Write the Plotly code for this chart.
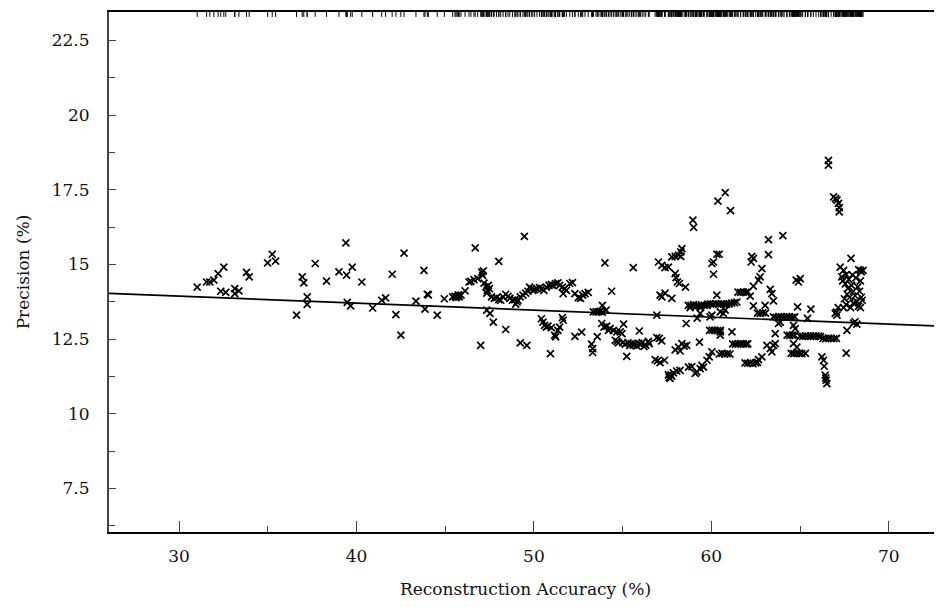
import plotly.graph_objects as go

# scatter points, grouped by x region
acc_a = [31.02, 31.55, 31.73, 31.96, 32.2, 32.52, 32.35, 32.63, 33.14, 33.14, 33.37, 33.8, 33.95, 34.99, 35.25, 35.44,
         36.62, 36.94, 37.03, 37.22, 37.22, 37.67, 38.31, 39.01, 39.4, 39.44, 39.76, 39.48, 39.67, 40.3, 40.91, 41.42,
         41.64, 42.01, 42.22, 42.5, 42.68]
prec_a = [14.24, 14.41, 14.41, 14.47, 14.69, 14.91, 14.10, 14.06, 14.19, 14.02, 14.11, 14.73, 14.58, 15.05, 15.34, 15.11,
          13.30, 14.58, 14.38, 13.91, 13.66, 15.03, 14.44, 14.75, 15.72, 14.64, 14.91, 13.73, 13.61, 14.41, 13.54, 13.80,
          13.88, 14.67, 13.32, 12.63, 15.38]

acc_b = [43.8, 43.35, 43.99, 44.05, 43.86, 44.55, 44.95, 46.69, 48.02, 49.46,
         45.42, 45.55, 45.68, 45.79, 45.89, 45.61, 45.74,
         46.12, 46.34, 46.45, 46.62, 46.83, 47.06, 47.11, 47.15, 47.19, 47.3, 47.43, 47.49, 47.37, 47.34,
         47.61, 47.76, 47.89, 48.02, 48.13, 48.26, 48.41, 48.54, 48.64, 48.79, 48.92, 49.05, 49.1, 48.97,
         49.23, 49.38, 49.53, 49.66, 49.75, 49.85, 49.94, 50.04, 50.17, 50.32, 50.45, 50.56, 50.70, 50.85, 50.98, 51.07,
         51.22, 51.35, 51.45, 51.60, 51.73, 51.83, 52.02, 52.17, 51.65,
         52.31, 52.5, 52.63, 52.75, 52.88, 53.06,
         47.34, 47.52, 47.71, 48.41, 47.0, 49.23, 49.60,
         50.42, 50.51, 50.6, 50.70, 50.79, 50.98, 51.17, 51.22, 51.35, 51.45, 51.6, 51.65, 50.93, 52.31, 52.69]
prec_b = [14.80, 13.77, 14.0, 13.98, 13.50, 13.30, 13.85, 15.55, 15.1, 15.94,
          13.91, 13.93, 13.93, 13.91, 13.97, 13.89, 13.98,
          14.11, 14.41, 14.43, 14.49, 14.52, 14.74, 14.63, 14.78, 14.37, 14.25, 14.30, 14.19, 14.13, 14.04,
          13.91, 13.86, 13.89, 13.82, 13.80, 13.91, 14.0, 13.93, 13.86, 13.80, 13.82, 13.74, 13.80, 13.67,
          13.91, 13.97, 14.04, 14.10, 14.24, 14.19, 14.13, 14.15, 14.19, 14.22, 14.19, 14.13, 14.24, 14.30, 14.32, 14.30,
          14.36, 14.38, 14.30, 14.24, 14.19, 14.13, 14.36, 14.39, 14.02,
          14.02, 13.89, 13.86, 13.97, 14.02, 14.06,
          13.47, 13.36, 13.07, 12.82, 12.29, 12.37, 12.29,
          13.18, 13.07, 12.96, 12.90, 12.93, 12.88, 12.63, 12.57, 12.79, 12.90, 13.22, 13.13, 12.01, 12.59, 12.73]

acc_c = [53.25, 53.31, 53.31, 53.57, 54.0, 54.38, 55.6,
         53.35, 53.5, 53.62, 53.73, 53.85, 53.86, 54.07,
         53.82, 53.95, 54.1, 54.2, 54.29, 54.48, 54.67, 54.86, 55.05, 54.96, 54.58, 54.76,
         54.68, 55.0, 55.3, 55.5, 55.7, 56.0, 56.3, 56.5, 56.2, 55.8, 55.4, 55.15, 55.6, 55.9, 56.1,
         55.23, 55.94, 56.45, 56.93, 56.93, 57.07, 57.2, 56.83, 56.96, 57.11, 57.36]
prec_c = [12.33, 12.18, 12.05, 12.58, 15.05, 14.10, 14.89,
          13.41, 13.41, 13.41, 13.43, 13.40, 13.63, 13.47,
          13.02, 12.90, 12.93, 12.79, 12.85, 12.79, 12.74, 12.74, 13.0, 12.68, 12.46, 12.37,
          12.42, 12.38, 12.37, 12.35, 12.33, 12.31, 12.30, 12.35, 12.25, 12.27, 12.29, 12.33, 12.30, 12.36, 12.38,
          11.92, 12.77, 12.42, 13.3, 12.55, 12.52, 12.44, 11.81, 11.77, 11.71, 11.79]

acc_d = [57.02, 57.21, 57.39, 57.58,
         57.11, 57.21, 57.39, 57.77,
         57.77, 57.96, 58.15, 58.28, 58.34, 58.28,
         57.96, 58.01, 58.09, 58.2, 58.54,
         57.96, 58.15, 58.34, 58.47, 58.61, 58.24,
         57.58, 57.67, 57.77, 57.86, 58.05, 58.24, 57.62, 57.72,
         58.58,
         58.71, 58.9, 59.09, 59.18, 59.37, 59.47, 59.56, 59.75, 59.88, 60.03,
         58.96, 59.0,
         58.7, 58.85, 59.0, 59.15, 59.3, 59.45, 59.6, 59.75, 58.8, 59.1, 59.4,
         59.33, 59.37, 59.2]
prec_d = [15.08, 14.97, 14.89, 14.91,
          13.97, 13.91, 14.04, 13.86,
          15.25, 15.27, 15.31, 15.42, 15.53, 15.27,
          14.69, 14.56, 14.41, 14.36, 14.24,
          12.14, 12.23, 12.35, 12.26, 12.29, 12.10,
          11.30, 11.18, 11.25, 11.37, 11.43, 11.45, 11.22, 11.30,
          13.02,
          11.56, 11.58, 11.35, 11.40, 11.51, 11.62, 11.56, 11.79, 11.90, 12.07,
          16.48, 16.24,
          13.63, 13.63, 13.65, 13.63, 13.62, 13.64, 13.63, 13.63, 13.55, 13.57, 13.56,
          12.40, 13.36, 13.20]

acc_e = [60.03, 60.12, 60.12, 60.31, 60.44, 60.37, 60.78, 60.31,
         59.8, 59.95, 60.1, 60.25, 60.4, 60.55, 60.7, 60.85, 61.0, 61.15, 61.3, 61.44,
         60.03, 59.93, 60.5, 60.68, 60.78,
         59.9, 60.05, 60.2, 60.35, 60.5, 60.5,
         60.45, 60.6, 60.75, 60.9, 61.05,
         61.08,
         61.5, 61.65, 61.8, 61.95, 62.05,
         60.5, 61.16,
         61.2, 61.35, 61.5, 61.65, 61.8, 61.95, 62.05,
         61.9, 62.05, 62.2, 62.35, 62.5, 62.6]
prec_e = [15.03, 15.08, 14.67, 15.34, 15.34, 17.12, 17.40, 13.97,
          13.67, 13.68, 13.67, 13.69, 13.67, 13.68, 13.67, 13.66, 13.68, 13.70, 13.72, 13.74,
          13.30, 13.24, 13.41, 13.36, 13.47,
          12.79, 12.80, 12.79, 12.78, 12.79, 12.63,
          12.00, 12.02, 12.00, 12.01, 12.00,
          16.80,
          14.07, 14.06, 14.07, 14.06, 14.08,
          12.74, 12.74,
          12.34, 12.33, 12.34, 12.35, 12.34, 12.33, 12.34,
          11.70, 11.69, 11.70, 11.68, 11.70, 11.72]

acc_f = [62.28, 62.37, 62.24, 62.85, 62.75, 62.66, 62.37, 62.19, 62.37,
         62.6, 62.75, 62.9, 63.05,
         63.03, 63.32, 63.41, 63.5,
         63.22, 64.03, 63.22,
         63.13, 63.32, 63.5, 63.41, 63.6, 62.85, 62.66,
         63.5, 63.65, 63.8, 63.95, 64.1, 64.25, 64.4, 64.55, 64.7,
         63.6, 63.78, 63.88,
         64.27, 64.42, 64.57, 64.7,
         64.5, 64.65, 64.8, 64.95, 65.1, 65.3,
         64.63, 64.73, 64.63, 64.82,
         64.86, 65.42, 65.61,
         64.78, 65.01, 64.91]
prec_f = [15.27, 15.20, 15.08, 14.86, 14.58, 14.47, 14.27, 13.94, 13.61,
          13.37, 13.36, 13.38, 13.37,
          13.63, 14.16, 14.02, 13.78,
          15.83, 15.96, 15.33,
          12.29, 12.18, 12.29, 12.07, 12.35, 11.90, 11.81,
          13.24, 13.23, 13.25, 13.24, 13.23, 13.25, 13.24, 13.23, 13.24,
          12.68, 13.02, 13.07,
          12.63, 12.62, 12.63, 12.62,
          12.02, 12.01, 12.03, 12.02, 12.01, 12.02,
          12.96, 12.85, 12.35, 12.23,
          13.58, 13.19, 13.50,
          14.47, 14.52, 14.41]

acc_g = [65.0, 65.15, 65.3, 65.45, 65.6, 65.75, 65.9, 66.05, 66.15,
         66.3, 66.45, 66.6, 66.75, 66.9, 67.05,
         66.23, 66.32, 66.36, 66.42, 66.47, 66.51, 66.45,
         66.6, 66.6,
         66.89, 67.08, 67.17, 67.21, 67.21, 67.0,
         66.98, 67.08,
         67.26, 67.45, 67.6, 67.35, 67.87,
         67.4, 67.55, 67.7, 67.65, 67.8, 67.5, 67.9, 68.0, 68.1, 67.75, 68.2, 68.3, 67.6, 67.45, 67.85, 68.0,
         68.35, 68.25, 68.4, 68.15, 67.95, 68.45, 68.4, 68.5,
         68.4, 68.55, 68.3, 68.45,
         68.1, 68.2, 68.01, 67.64, 67.6,
         67.05, 67.15]
prec_g = [12.60, 12.59, 12.61, 12.60, 12.59, 12.60, 12.61, 12.60, 12.58,
          12.52, 12.51, 12.53, 12.52, 12.51, 12.52,
          11.90, 11.79, 11.59, 11.29, 11.12, 11.01, 11.20,
          18.48, 18.32,
          17.26, 17.15, 17.04, 16.90, 16.76, 17.20,
          13.36, 13.30,
          14.91, 14.80, 14.66, 14.58, 15.20,
          14.45, 14.35, 14.20, 14.00, 13.90, 13.85, 14.30, 14.10, 13.95, 14.50, 13.75, 13.60, 13.65, 13.55, 13.55, 13.70,
          14.10, 14.25, 14.45, 14.55, 14.65, 13.90, 13.55, 13.80,
          14.80, 14.80, 14.82, 14.75,
          13.08, 13.00, 13.03, 12.79, 12.03,
          13.40, 13.55]

accuracy = acc_a + acc_b + acc_c + acc_d + acc_e + acc_f + acc_g
precision = prec_a + prec_b + prec_c + prec_d + prec_e + prec_f + prec_g

# fitted trend line, end points
fit_x = [26.05, 73.0]
fit_y = [14.03, 12.93]

X_RANGE = [26.05, 73.0]
Y_RANGE = [6.04, 23.45]

font = dict(family='DejaVu Serif', size=17, color='#111')
axis_grey = '#444'

fig = go.Figure()

fig.add_trace(go.Scatter(x=fit_x, y=fit_y, mode='lines',
                         line=dict(color='black', width=1.6), hoverinfo='skip'))

fig.add_trace(go.Scatter(x=accuracy, y=precision, mode='markers',
                         marker=dict(symbol='x-thin', size=7,
                                     line=dict(color='black', width=1.7))))

# rug along the top edge
fig.add_trace(go.Scatter(x=accuracy, y=[Y_RANGE[1]] * len(accuracy), mode='markers',
                         marker=dict(symbol='line-ns', size=7,
                                     line=dict(color='black', width=1)),
                         hoverinfo='skip'))

# the page body has an 8px margin, so the figure is sized to fill the rest
fig.update_layout(
    width=934, height=591,
    margin=dict(l=101, r=0, t=4, b=67),
    plot_bgcolor='white', paper_bgcolor='white',
    showlegend=False,
    font=font,
)

fig.update_xaxes(
    range=X_RANGE, showgrid=False, zeroline=False, automargin=False,
    showline=True, linecolor='black', linewidth=1.5, mirror=True,
    ticks='inside', tick0=30, dtick=10, ticklen=11, tickcolor=axis_grey, tickwidth=1,
    minor=dict(ticks='inside', dtick=5, tick0=30, ticklen=6, tickcolor=axis_grey, showgrid=False),
    ticklabelstandoff=8,
    title=dict(text='Reconstruction Accuracy (%)', standoff=18, font=font),
)

fig.update_yaxes(
    range=Y_RANGE, showgrid=False, zeroline=False, automargin=False,
    showline=True, linecolor=axis_grey, linewidth=2,
    ticks='inside', tick0=7.5, dtick=2.5, ticklen=7, tickcolor=axis_grey, tickwidth=1,
    minor=dict(ticks='inside', dtick=1.25, tick0=7.5, ticklen=6, tickcolor=axis_grey, showgrid=False),
    ticklabelstandoff=14,
    title=dict(text='Precision (%)', standoff=18, font=font),
)

fig.write_html("out.html")
